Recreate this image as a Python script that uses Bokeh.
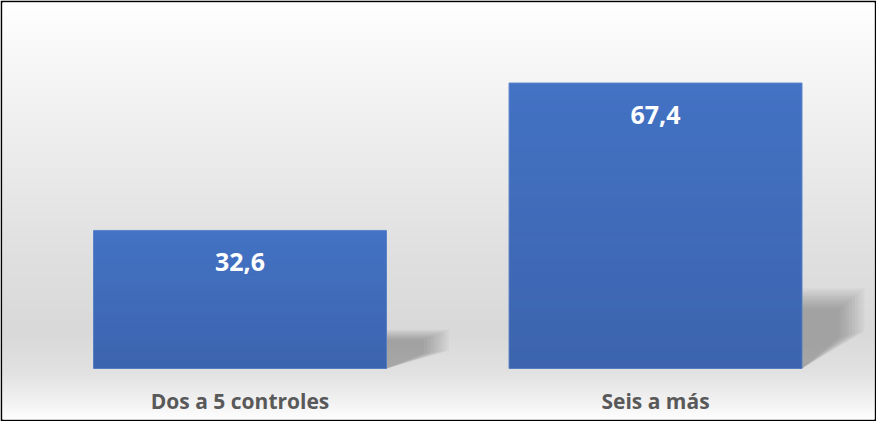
import numpy as np
from bokeh.plotting import figure
from bokeh.models import Range1d, ColumnDataSource
from bokeh.core.properties import value
from bokeh.embed import file_html
from bokeh.resources import INLINE

categories = ["Dos a 5 controles", "Seis a más"]
values = [32.6, 67.4]
value_labels = ["32,6", "67,4"]

W, H = 876, 421
B = 2  # black frame border thickness
xs = np.arange(len(categories), dtype=float)
bar_w = 0.705

x_start, x_end = -0.5716, 1.527
y_start, y_end = -12.04, 86.42

p = figure(width=W, height=H, output_backend="svg", toolbar_location=None,
           x_range=Range1d(x_start, x_end), y_range=Range1d(y_start, y_end),
           min_border=B, min_border_left=B, min_border_right=B,
           min_border_top=B, min_border_bottom=B)
p.axis.visible = False
p.grid.visible = False
p.outline_line_color = None
p.border_fill_color = "black"

# background vertical gradient (top -> bottom, in pixel rows)
FH = H - 2 * B
stops_y = [0, 60, 150, 250, 330, 370, 400, FH]
stops_c = [255, 247, 236, 224, 217, 226, 243, 255]
rows = np.arange(FH)
g = np.interp(rows, stops_y, stops_c).astype(np.uint32)
g = g[::-1]  # row 0 at bottom
img = np.empty((FH, 1), dtype=np.uint32)
view = img.view(dtype=np.uint8).reshape((FH, 1, 4))
view[:, 0, 0] = g
view[:, 0, 1] = g
view[:, 0, 2] = g
view[:, 0, 3] = 255
p.image_rgba(image=[img], x=x_start, y=y_start, dw=x_end - x_start, dh=y_end - y_start)

# soft shadows (layered translucent patches)
nl = 9
for i, v in enumerate(values):
    r = xs[i] + bar_w / 2
    for k in range(nl):
        t = k / (nl - 1)          # 0 = outer, 1 = inner
        sw = 0.15 - 0.06 * t
        top = 0.28 * v - 0.07 * v * t
        mid = 0.13 * v - 0.02 * v * t
        px = [r, r + sw, r + sw, r]
        py = [top, top, mid, 0.0]
        p.patch(px, py, fill_color="#505050", fill_alpha=0.05, line_alpha=0)

src = ColumnDataSource(dict(x=xs, top=values, lab=value_labels, cat=categories,
                            zero=[0.0] * len(values)))
p.vbar(x="x", top="top", width=bar_w, source=src, fill_color="#4472c4",
       line_color="#5b84cc", line_width=1)

# darkening gradient overlay on bars
n = 200
for i, v in enumerate(values):
    a = np.linspace(0.16, 0.0, n)  # bottom row darkest
    ov = np.empty((n, 1), dtype=np.uint32)
    vv = ov.view(dtype=np.uint8).reshape((n, 1, 4))
    vv[:, 0, 0] = 20
    vv[:, 0, 1] = 30
    vv[:, 0, 2] = 60
    vv[:, 0, 3] = (a * 255).astype(np.uint8)
    p.image_rgba(image=[ov], x=xs[i] - bar_w / 2, y=0, dw=bar_w, dh=v)

p.text(x="x", y="top", text="lab", source=src, text_color="white",
       text_font=value("Open Sans"), text_font_style="bold", text_font_size="25px",
       text_align="center", text_baseline="middle", y_offset=32)

p.text(x="x", y="zero", text="cat", source=src, text_color="#595959",
       text_font=value("Open Sans"), text_font_style="bold", text_font_size="21px",
       text_align="center", text_baseline="middle", y_offset=32)

open("out.html", "w").write(file_html(p, INLINE))
